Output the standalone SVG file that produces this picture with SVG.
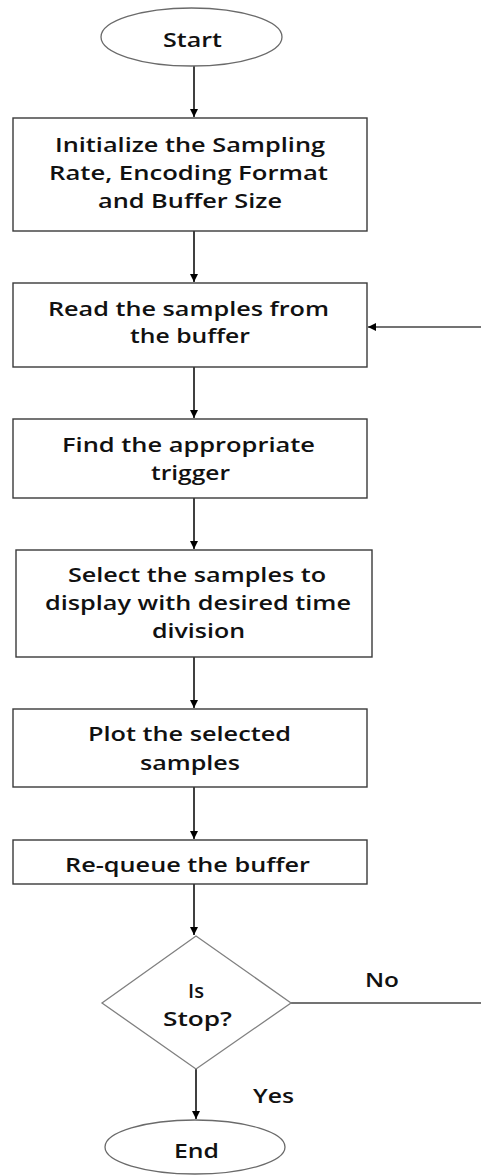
<svg xmlns="http://www.w3.org/2000/svg" width="481" height="1175" viewBox="0 0 481 1175">
<defs>
<marker id="ah" markerWidth="10" markerHeight="10" refX="9" refY="5" orient="auto" markerUnits="userSpaceOnUse">
<path d="M1,1 L9,5 L1,9 Z" fill="#000"/>
</marker>
<style>
.box{fill:#fff;stroke:#3a3a3a;stroke-width:1.4}
.term{fill:#fff;stroke:#6a6a6a;stroke-width:1.3}
.dia{fill:#fff;stroke:#808080;stroke-width:1.3}
.t{font-family:"Open Sans","Liberation Sans",sans-serif;font-size:20px;font-weight:600;fill:#111}
.c{fill:none;stroke:#000;stroke-width:1.5}
</style>
</defs>
<rect width="481" height="1175" fill="#fff"/>
<g id="connectors">
<line class="c" x1="194" y1="66" x2="194" y2="117" marker-end="url(#ah)"/>
<line class="c" x1="194" y1="231" x2="194" y2="282" marker-end="url(#ah)"/>
<line class="c" x1="194" y1="367" x2="194" y2="418" marker-end="url(#ah)"/>
<line class="c" x1="194" y1="498" x2="194" y2="549" marker-end="url(#ah)"/>
<line class="c" x1="194" y1="657" x2="194" y2="708" marker-end="url(#ah)"/>
<line class="c" x1="194" y1="787" x2="194" y2="839" marker-end="url(#ah)"/>
<line class="c" x1="194" y1="884" x2="194" y2="935" marker-end="url(#ah)"/>
<line class="c" x1="196" y1="1069" x2="196" y2="1119" marker-end="url(#ah)"/>
<line class="c" x1="291" y1="1003" x2="481" y2="1003" style="stroke:#444;stroke-width:1.3"/>
<line class="c" x1="481" y1="327" x2="368" y2="327" marker-end="url(#ah)" style="stroke:#444;stroke-width:1.3"/>
<text class="t" x="365" y="987" textLength="34" lengthAdjust="spacingAndGlyphs">No</text>
<text class="t" x="253" y="1103" textLength="41" lengthAdjust="spacingAndGlyphs">Yes</text>
</g>
<g id="start">
<ellipse class="term" cx="191.5" cy="37" rx="90.5" ry="29"/>
<text class="t" x="163" y="47" textLength="59" lengthAdjust="spacingAndGlyphs">Start</text>
</g>
<g id="init">
<rect class="box" x="13" y="118" width="354" height="113"/>
<text class="t" x="55" y="152" textLength="270" lengthAdjust="spacingAndGlyphs">Initialize the Sampling</text>
<text class="t" x="49" y="180" textLength="279" lengthAdjust="spacingAndGlyphs">Rate, Encoding Format</text>
<text class="t" x="98" y="208" textLength="184" lengthAdjust="spacingAndGlyphs">and Buffer Size</text>
</g>
<g id="read">
<rect class="box" x="13" y="283" width="354" height="84"/>
<text class="t" x="48" y="316" textLength="281" lengthAdjust="spacingAndGlyphs">Read the samples from</text>
<text class="t" x="130" y="343" textLength="120" lengthAdjust="spacingAndGlyphs">the buffer</text>
</g>
<g id="trigger">
<rect class="box" x="13" y="419" width="354" height="79"/>
<text class="t" x="62" y="452" textLength="253" lengthAdjust="spacingAndGlyphs">Find the appropriate</text>
<text class="t" x="151" y="480" textLength="79" lengthAdjust="spacingAndGlyphs">trigger</text>
</g>
<g id="select">
<rect class="box" x="16" y="550" width="356" height="107"/>
<text class="t" x="68" y="582" textLength="258" lengthAdjust="spacingAndGlyphs">Select the samples to</text>
<text class="t" x="45" y="610" textLength="306" lengthAdjust="spacingAndGlyphs">display with desired time</text>
<text class="t" x="152" y="638" textLength="93" lengthAdjust="spacingAndGlyphs">division</text>
</g>
<g id="plot">
<rect class="box" x="13" y="709" width="354" height="78"/>
<text class="t" x="88" y="741" textLength="203" lengthAdjust="spacingAndGlyphs">Plot the selected</text>
<text class="t" x="140" y="770" textLength="100" lengthAdjust="spacingAndGlyphs">samples</text>
</g>
<g id="requeue">
<rect class="box" x="13" y="840" width="354" height="44"/>
<text class="t" x="65" y="872" textLength="245" lengthAdjust="spacingAndGlyphs">Re-queue the buffer</text>
</g>
<g id="decision">
<polygon class="dia" points="196,936 291,1003 196,1069 102,1003"/>
<text class="t" x="188" y="998" textLength="16" lengthAdjust="spacingAndGlyphs">Is</text>
<text class="t" x="163" y="1026" textLength="69" lengthAdjust="spacingAndGlyphs">Stop?</text>
</g>
<g id="end">
<ellipse class="term" cx="195" cy="1147" rx="90" ry="27"/>
<text class="t" x="174" y="1158" textLength="45" lengthAdjust="spacingAndGlyphs">End</text>
</g>
</svg>
